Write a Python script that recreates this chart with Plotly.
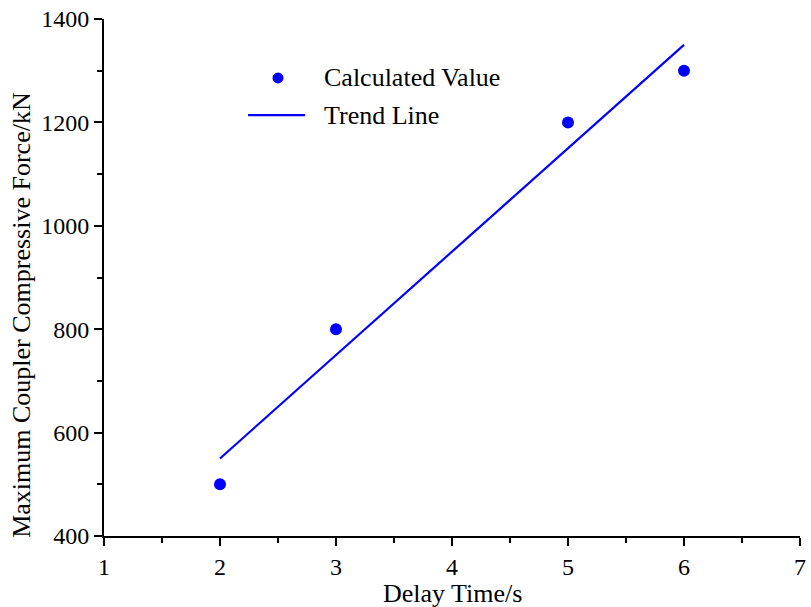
import plotly.graph_objects as go

# Measured results: delay time (s) vs. maximum coupler compressive force (kN)
delay_time = [2, 3, 5, 6]
max_force = [500, 800, 1200, 1300]

# Least-squares trend line
n = len(delay_time)
mx = sum(delay_time) / n
my = sum(max_force) / n
slope = sum((x - mx) * (y - my) for x, y in zip(delay_time, max_force)) / sum((x - mx) ** 2 for x in delay_time)
intercept = my - slope * mx
trend_x = [min(delay_time), max(delay_time)]
trend_y = [intercept + slope * x for x in trend_x]

x_ticks = [1, 2, 3, 4, 5, 6, 7]
y_ticks = [400, 600, 800, 1000, 1200, 1400]
legend_labels = ["Calculated Value", "Trend Line"]
x_title = "Delay Time/s"
y_title = "Maximum Coupler Compressive Force/kN"

FONT = "Liberation Serif, Times New Roman, serif"
BLUE = "#0000ff"

fig = go.Figure()
fig.add_trace(go.Scatter(
    x=delay_time, y=max_force, mode="markers", name=legend_labels[0],
    marker=dict(color=BLUE, size=12, line=dict(width=0)), showlegend=False,
))
fig.add_trace(go.Scatter(
    x=trend_x, y=trend_y, mode="lines", name=legend_labels[1],
    line=dict(color=BLUE, width=2.2), showlegend=False,
))

# Hand-drawn legend (paper coordinates of the plotting area)
W, H = 696.0, 517.0
mk_x, mk_y, r = 0.25, 0.886, 5.5
fig.add_shape(type="circle", xref="paper", yref="paper",
              x0=mk_x - r / W, x1=mk_x + r / W, y0=mk_y - r / H, y1=mk_y + r / H,
              fillcolor=BLUE, line=dict(width=0))
ln_y = 0.814
fig.add_shape(type="line", xref="paper", yref="paper",
              x0=0.207, x1=0.289, y0=ln_y, y1=ln_y, line=dict(color=BLUE, width=2.2))
for label, yy in zip(legend_labels, [mk_y, ln_y]):
    fig.add_annotation(text=label, xref="paper", yref="paper", x=0.313, y=yy,
                       xanchor="left", yanchor="middle", showarrow=False,
                       font=dict(family=FONT, size=26, color="black"))

# Axis titles
fig.add_annotation(text=x_title, xref="paper", yref="paper", x=0.5, y=-0.111,
                   xanchor="center", yanchor="middle", showarrow=False,
                   font=dict(family=FONT, size=26, color="black"))
fig.add_annotation(text=y_title, xref="paper", yref="paper", x=-0.118, y=0.4275,
                   xanchor="center", yanchor="middle", showarrow=False, textangle=-90,
                   font=dict(family=FONT, size=26, color="black"))

axis_common = dict(
    showline=True, linecolor="black", linewidth=2, mirror=False,
    ticks="outside", ticklen=8, tickwidth=2, tickcolor="black",
    showgrid=False, zeroline=False, automargin=False,
    tickfont=dict(family=FONT, size=24, color="black"),
)

fig.update_layout(
    template="none",
    width=811, height=607,
    margin=dict(l=104, r=11, t=19, b=71),
    paper_bgcolor="white", plot_bgcolor="white",
    font=dict(family=FONT, color="black"),
    showlegend=False,
    xaxis=dict(
        range=[1, 7], tickvals=x_ticks, ticktext=[str(v) for v in x_ticks],
        minor=dict(tickvals=[1.5, 2.5, 3.5, 4.5, 5.5, 6.5], ticks="outside", ticklen=5, tickwidth=2, tickcolor="black"),
        **axis_common,
    ),
    yaxis=dict(
        range=[400, 1400], tickvals=y_ticks, ticktext=[str(v) for v in y_ticks],
        minor=dict(tickvals=[500, 700, 900, 1100, 1300], ticks="outside", ticklen=5, tickwidth=2, tickcolor="black"),
        **axis_common,
    ),
)

fig.write_html("out.html")
